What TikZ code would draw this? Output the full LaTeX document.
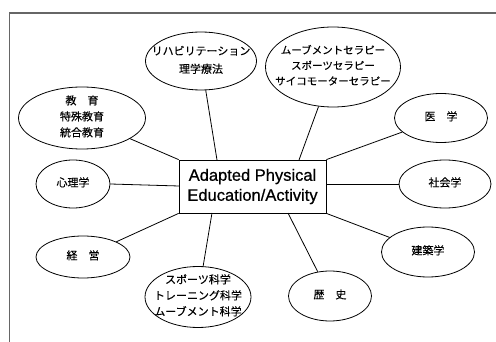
\documentclass[tikz,border=0pt]{standalone}
\usepackage{fontspec}
\setmainfont{Liberation Sans}
\newfontfamily\medfont[FakeBold=0.7]{Liberation Sans}
\newfontfamily\jpfont[FakeBold=0.3]{Noto Sans CJK JP}
\usetikzlibrary{shapes.geometric}
\newcommand\zt[1]{\raisebox{-4.2pt}{\smash{\makebox[0pt]{\begin{tabular}{@{}c@{}}#1\end{tabular}}}}}
\begin{document}
\begin{tikzpicture}[x=1pt,y=-1pt,
  bub/.style={draw,ellipse,inner sep=0pt,line width=0.8pt,font=\jpfont\fontsize{11}{16}\selectfont},
  link/.style={line width=0.8pt},
  frame/.style={draw=black!60,line width=1.2pt}]
\useasboundingbox (0,0) rectangle (496,342);
\draw[frame] (9.5,342) -- (9.5,13) -- (496,13);
\node[draw,line width=0.8pt,minimum width=147pt,minimum height=53pt,inner sep=0pt,align=center,
  font=\medfont\fontsize{16.5}{20}\selectfont] (c) at (252.5,186.5) {Adapted Physical\\Education/Activity};
\node[bub,minimum width=111pt,minimum height=58pt,font=\jpfont\fontsize{11}{18}\selectfont] (reh) at (201,61) {\zt{リハビリテーション\\理学療法}};
\node[bub,minimum width=135pt,minimum height=80pt,font=\jpfont\fontsize{10.5}{15.5}\selectfont] (mov) at (333,67) {\zt{ムーブメントセラピー\\スポーツセラピー\\サイコモーターセラピー}};
\node[bub,minimum width=93pt,minimum height=49pt] (med) at (441,118) {\zt{医　学}};
\node[bub,minimum width=127pt,minimum height=62pt] (edu) at (82,118) {\zt{教　育\\特殊教育\\統合教育}};
\node[bub,minimum width=74pt,minimum height=48pt] (psy) at (73,184) {\zt{心理学}};
\node[bub,minimum width=94pt,minimum height=42pt] (man) at (83,257) {\zt{経　営}};
\node[bub,minimum width=106pt,minimum height=61pt] (spo) at (198,297) {\zt{スポーツ科学\\トレーニング科学\\ムーブメント科学}};
\node[bub,minimum width=83pt,minimum height=50pt] (his) at (330,296) {\zt{歴　史}};
\node[bub,minimum width=93pt,minimum height=50pt] (arc) at (428,252) {\zt{建築学}};
\node[bub,minimum width=92pt,minimum height=48pt] (soc) at (445,184) {\zt{社会学}};
\coordinate (cRe) at (217,160);
\coordinate (cMo) at (299,160);
\coordinate (cSp) at (212,213);
\coordinate (cHi) at (288,213);
\coordinate (cPs) at (179,186);
\coordinate (cSo) at (326,184);
\draw[link] (reh) -- (cRe);
\draw[link] (mov) -- (cMo);
\draw[link] (med) -- (c.north east);
\draw[link] (edu) -- (c.north west);
\draw[link] (psy.east) -- (cPs);
\draw[link] (man) -- (c.south west);
\draw[link] (spo) -- (cSp);
\draw[link] (his) -- (cHi);
\draw[link] (arc) -- (c.south east);
\draw[link] (soc.west) -- (cSo);
\end{tikzpicture}
\end{document}
